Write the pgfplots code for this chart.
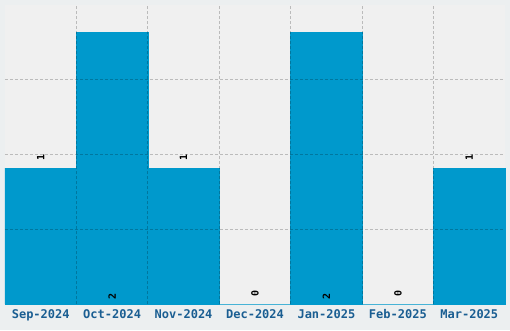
\documentclass[border=0pt]{standalone}
\usepackage{fontspec}
\setmainfont{DejaVu Sans}
\setmonofont{DejaVu Sans Mono}
\usepackage{pgfplots}
\pgfplotsset{compat=1.18}
\definecolor{outerbg}{HTML}{ECEFF0}
\definecolor{plotbg}{HTML}{F0F0F0}
\definecolor{barblue}{HTML}{0099CC}
\definecolor{ticklab}{HTML}{1A5E92}
\begin{document}
\begin{tikzpicture}
\path[use as bounding box, fill=outerbg] (0,0) rectangle (510pt,330pt);
\begin{axis}[
  at={(5pt,26pt)}, anchor=south west,
  scale only axis, width=500pt, height=299pt,
  xmin=-0.5, xmax=6.5, ymin=0, ymax=2.2,
  axis background/.style={fill=plotbg},
  axis line style={draw=none},
  major tick length=0pt, minor tick length=0pt,
  xtick={0,...,6},
  xticklabels={Sep-2024,Oct-2024,Nov-2024,Dec-2024,Jan-2025,Feb-2025,Mar-2025},
  minor xtick={0.5,1.5,2.5,3.5,4.5,5.5},
  xminorgrids=true,
  ytick={0.55,1.1,1.65}, yticklabels={},
  ymajorgrids=true,
  grid style={black, opacity=0.22, dash pattern=on 3pt off 2pt, line width=1pt},
  minor grid style={black, opacity=0.22, dash pattern=on 3pt off 2pt, line width=1pt},
  axis on top,
  xticklabel style={font=\ttfamily\bfseries\fontsize{12}{12}\selectfont, text=ticklab, yshift=-2pt},
  clip=false,
]
\addplot[ybar, bar width=71.43pt, fill=barblue, draw=barblue, line width=0.5pt]
  coordinates {(0,1)(1,2)(2,1)(3,0)(4,2)(5,0)(6,1)};
\addplot[draw=none, mark=none, nodes near coords, point meta=explicit symbolic,
  every node near coord/.style={rotate=90, anchor=west, inner sep=3pt,
    font=\ttfamily\bfseries\fontsize{10}{10}\selectfont, text=black}]
  coordinates {(0,1.03)[1] (1,0.01)[2] (2,1.03)[1] (3,0.03)[0] (4,0.01)[2] (5,0.03)[0] (6,1.03)[1]};
\end{axis}
\end{tikzpicture}
\end{document}
